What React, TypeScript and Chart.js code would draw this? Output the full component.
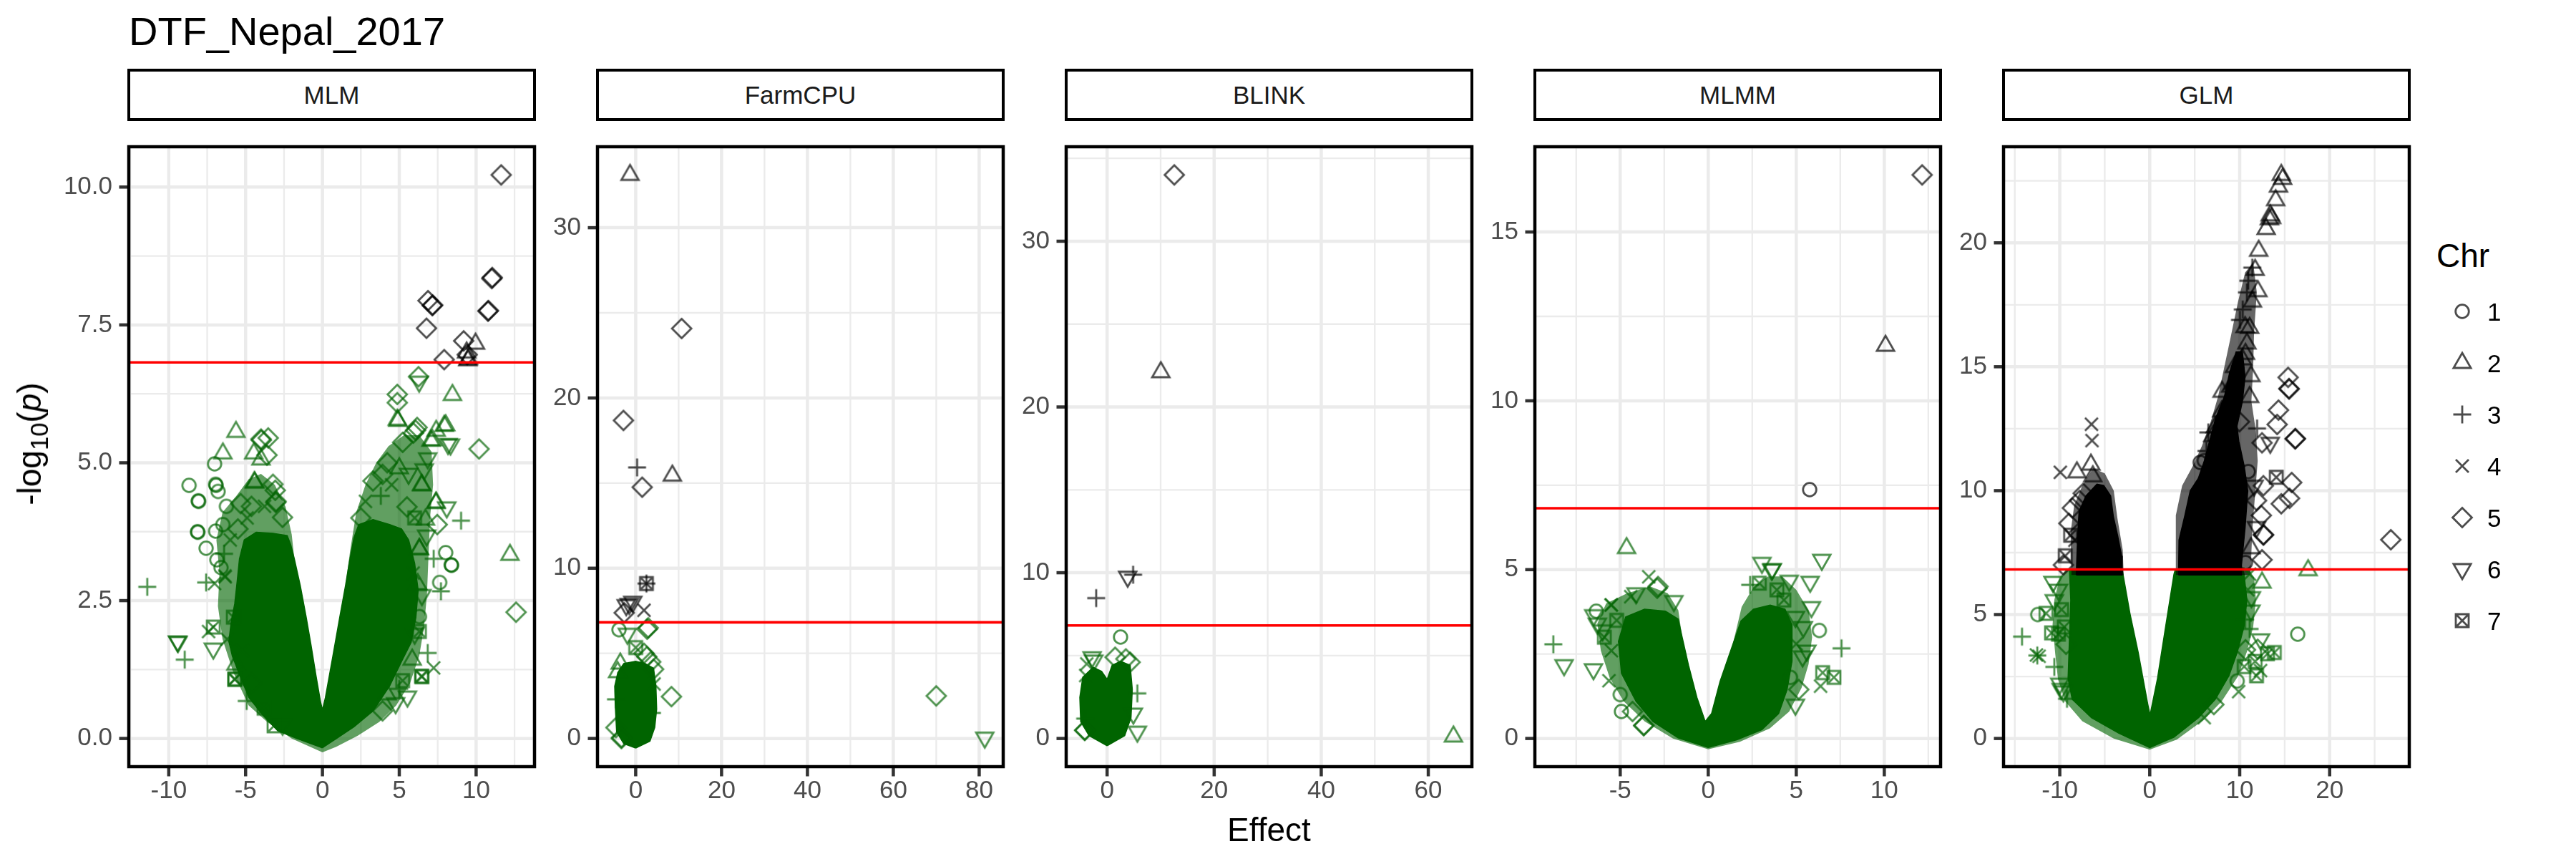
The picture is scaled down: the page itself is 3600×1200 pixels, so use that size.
import React, { useEffect, useRef } from "react";
import { Chart, registerables } from "chart.js";

Chart.register(...registerables);

const FONT = '"Liberation Sans", Arial, Helvetica, sans-serif';
Chart.defaults.font.family = FONT;

// ---------------- data ----------------
const PANEL_NAMES = ["MLM", "FarmCPU", "BLINK", "MLMM", "GLM"];
const CHR_LEVELS = [1, 2, 3, 4, 5, 6, 7];
const THRESHOLD = 6.82;

const mlmXTicks = [-10, -5, 0, 5, 10];
const mlmYTicks = [0, 2.5, 5, 7.5, 10];
const farmXTicks = [0, 20, 40, 60, 80];
const farmYTicks = [0, 10, 20, 30];
const blinkXTicks = [0, 20, 40, 60];
const blinkYTicks = [0, 10, 20, 30];
const mlmmXTicks = [-5, 0, 5, 10];
const mlmmYTicks = [0, 5, 10, 15];
const glmXTicks = [-10, 0, 10, 20];
const glmYTicks = [0, 5, 10, 15, 20];

// points: [effect, -log10(p), chr]
const mlmBlack = [
  [11.63, 10.22, 5], [11.02, 8.34, 5], [11.05, 8.36, 5], [6.87, 7.94, 5], [7.15, 7.85, 5], [7.17, 7.86, 5],
  [10.77, 7.75, 5], [10.8, 7.76, 5], [6.77, 7.44, 5], [9.19, 7.21, 5], [9.96, 7.16, 2], [9.42, 6.96, 5],
  [9.38, 7.0, 2], [9.46, 6.86, 2], [9.5, 6.88, 2], [7.92, 6.87, 5],
];
const mlmGreen = [
  [-5.63, 5.56, 2], [-6.48, 5.17, 2], [-4.0, 5.43, 5], [-3.98, 5.41, 5], [-3.53, 5.45, 5], [-4.47, 5.17, 2], [-4.0, 5.06, 2], [-3.61, 5.14, 5],
  [-7.02, 4.98, 1], [-8.68, 4.59, 1], [-6.95, 4.61, 1], [-6.92, 4.59, 1], [-6.79, 4.48, 1], [-4.43, 4.65, 2], [-4.41, 4.64, 2], [-3.22, 4.61, 5], [-3.07, 4.5, 5],
  [-8.06, 4.3, 1], [-8.08, 4.31, 1], [-3.02, 4.3, 5], [-3.04, 4.28, 5], [-6.25, 4.21, 1], [-5.32, 4.26, 5], [-4.62, 4.21, 5], [-3.77, 4.21, 4],
  [-8.11, 3.74, 1], [-8.13, 3.75, 1], [-6.95, 3.76, 1], [-6.48, 3.88, 1], [-7.57, 3.45, 1], [-6.87, 3.24, 1], [-6.4, 3.35, 3], [-2.6, 4.01, 5],
  [-11.4, 2.75, 3], [-7.57, 2.83, 3], [-6.33, 2.93, 4], [-6.35, 2.95, 4], [-7.02, 2.81, 4], [-9.43, 1.76, 6], [-9.4, 1.75, 6], [-8.96, 1.43, 3],
  [-7.1, 1.63, 6], [-7.41, 1.94, 4], [-7.1, 2.02, 7], [-5.63, 1.34, 2], [-5.71, 1.07, 7], [-5.7, 1.08, 7], [-4.93, 0.68, 3], [-3.15, 0.23, 7],
  [-6.6, 3.1, 1], [-6.0, 3.6, 4], [-5.8, 2.2, 7], [-6.2, 1.8, 4], [-5.5, 3.8, 5], [-4.9, 4.0, 4], [-5.2, 1.6, 4], [-4.6, 1.0, 5], [-3.8, 0.55, 7], [-2.6, 0.25, 6],
  [4.91, 5.76, 2], [6.16, 5.64, 5], [5.92, 5.54, 5], [6.06, 5.59, 5], [8.02, 5.68, 2], [7.16, 5.41, 2], [7.06, 5.4, 2], [8.33, 5.33, 6], [8.17, 5.34, 6], [7.4, 5.58, 2],
  [10.19, 5.25, 5], [5.22, 5.37, 5], [4.22, 5.0, 5], [3.91, 4.79, 5], [3.29, 4.67, 5], [6.85, 5.08, 6], [6.62, 4.88, 6], [6.47, 4.59, 2], [6.45, 4.6, 2],
  [7.4, 4.28, 2], [7.38, 4.27, 2], [8.09, 4.19, 6], [9.02, 3.95, 3], [6.7, 3.97, 2], [7.47, 3.88, 5], [6.78, 3.68, 6], [6.31, 3.43, 2], [6.3, 3.44, 2],
  [8.02, 3.37, 1], [8.4, 3.14, 1], [8.38, 3.15, 1], [7.24, 3.26, 3], [7.63, 2.83, 1], [7.71, 2.67, 3], [12.2, 3.33, 2], [12.6, 2.29, 5], [6.47, 2.6, 6],
  [6.31, 1.94, 7], [6.85, 1.55, 3], [7.24, 1.28, 4], [6.47, 1.12, 7], [6.45, 1.13, 7], [5.84, 1.43, 2], [5.22, 1.05, 7], [5.53, 0.76, 6], [4.76, 0.64, 6], [3.91, 0.5, 5], [6.31, 2.21, 1],
  [6.25, 6.56, 5], [6.29, 6.47, 6], [4.87, 6.24, 5], [4.87, 6.09, 5], [8.46, 6.23, 2], [4.87, 5.78, 2], [7.92, 5.67, 2],
  [4.5, 4.6, 4], [5.0, 4.9, 2], [5.6, 4.8, 6], [5.5, 4.2, 5], [6.0, 4.0, 7], [3.8, 4.4, 3], [2.8, 4.3, 4], [2.5, 4.0, 5], [5.9, 3.0, 4], [6.2, 2.8, 2], [6.0, 1.9, 6], [5.0, 0.9, 3], [4.2, 0.8, 2],
];
const farmBlack = [
  [-1.32, 33.1, 2], [10.7, 24.08, 5], [-2.85, 18.68, 5], [0.33, 15.92, 3], [8.54, 15.44, 2], [1.52, 14.76, 5],
  [2.5, 9.1, 7], [2.5, 9.1, 3], [-0.67, 8.03, 6], [-2.2, 7.83, 6], [-1.5, 7.9, 6], [-2.67, 7.38, 5], [1.94, 7.53, 4],
];
const farmGreen = [
  [-3.89, 6.39, 1], [-1.94, 6.15, 6], [2.67, 6.42, 5], [2.9, 6.5, 5], [0, 5.34, 7], [1.94, 5.0, 5], [2.6, 4.8, 5], [4.17, 4.07, 5],
  [3.5, 4.5, 5], [8.33, 2.46, 5], [-4.6, 0.64, 5], [-3.33, 0.0, 5], [-3.3, 0.05, 5], [-4.6, 2.3, 3], [-4.2, 3.9, 2], [-3.6, 4.4, 2],
  [3.8, 1.5, 3], [4.3, 3.2, 4], [70, 2.5, 5], [81.3, 0.05, 6],
];
const blinkBlack = [[12.55, 34.0, 5], [10.04, 22.1, 2], [-2.04, 8.47, 3], [3.84, 9.76, 6], [4.86, 9.88, 3]];
const blinkGreen = [
  [2.51, 6.12, 1], [-2.8, 4.9, 6], [-2.5, 4.7, 6], [5.65, 2.72, 3], [5.65, 0.41, 6], [-4.2, 0.49, 5], [-4.15, 0.5, 5],
  [64.7, 0.12, 2], [1.5, 4.9, 5], [3.5, 4.8, 5], [4.3, 4.6, 5], [-4.0, 3.8, 4], [-3.8, 4.5, 4], [4.9, 1.5, 6], [-4.1, 1.2, 3],
];
const mlmmBlack = [[12.15, 16.69, 5], [10.07, 11.63, 2], [5.76, 7.37, 1]];
const mlmmGreen = [
  [-4.64, 5.64, 2], [-8.8, 2.79, 3], [-8.19, 2.17, 6], [-6.52, 2.05, 6], [-5.64, 1.71, 4], [-6.36, 3.77, 1], [-6.5, 3.65, 6], [-6.3, 3.4, 6],
  [-5.52, 3.95, 4], [-5.5, 3.96, 4], [-3.38, 4.79, 4], [-2.9, 4.45, 5], [-2.85, 4.5, 5], [-1.95, 4.07, 6], [-4.93, 0.8, 1], [-3.67, 0.38, 5], [-3.65, 0.39, 5],
  [3.05, 5.2, 6], [3.64, 5.02, 6], [3.6, 5.0, 6], [6.45, 5.29, 6], [4.6, 4.67, 6], [5.79, 4.64, 6], [2.38, 4.55, 3], [5.86, 3.89, 6], [6.31, 3.2, 1],
  [7.57, 2.67, 3], [6.5, 1.95, 7], [7.14, 1.81, 7], [6.38, 1.55, 4], [5.36, 2.43, 6], [4.95, 1.0, 6], [5.14, 1.45, 5], [4.67, 1.81, 1], [4.95, 3.6, 6], [5.4, 3.3, 6],
  [-5.9, 3.0, 7], [-5.5, 2.6, 4], [-5.2, 3.5, 7], [-4.4, 4.2, 4], [-4.1, 4.3, 6], [3.9, 4.4, 7], [4.3, 4.1, 7], [2.9, 4.6, 7], [5.0, 2.8, 4], [5.6, 2.6, 6],
  [-5.0, 1.3, 1], [-4.3, 0.8, 5], [-6.0, 3.2, 6],
];
const glmBlack = [
  [14.62, 22.74, 2], [14.77, 22.58, 2], [14.31, 22.27, 2], [14.0, 21.72, 2], [13.39, 21.11, 2], [13.55, 21.0, 2], [13.3, 20.95, 2], [12.94, 20.56, 2],
  [12.11, 19.68, 2], [11.71, 18.91, 2], [11.4, 19.0, 3], [10.95, 18.47, 3], [12.02, 18.05, 2], [10.8, 18.0, 3], [11.41, 17.63, 2], [10.34, 17.31, 3],
  [10.03, 16.89, 3], [11.1, 16.57, 2], [10.6, 16.6, 2], [10.8, 15.94, 2], [10.64, 15.52, 2], [10.3, 15.3, 2], [9.42, 14.99, 2], [11.25, 14.62, 2],
  [9.27, 14.3, 2], [8.04, 13.99, 2], [11.1, 13.78, 2], [8.81, 13.41, 2], [8.3, 12.9, 2], [9.97, 12.78, 5], [7.28, 12.56, 2], [6.51, 12.35, 3],
  [11.93, 12.51, 3], [13.39, 11.93, 6], [12.48, 11.93, 5], [7.58, 11.66, 2], [5.6, 11.14, 1], [10.95, 10.77, 1],
  [15.38, 14.57, 5], [15.47, 14.12, 5], [15.5, 14.1, 5], [14.31, 13.25, 5], [14.16, 12.67, 5], [16.15, 12.09, 5], [16.2, 12.1, 5],
  [14.07, 10.54, 7], [15.78, 10.33, 5], [15.54, 9.69, 5], [14.62, 9.47, 5], [11.87, 9.6, 5], [12.63, 10.2, 5], [12.63, 8.21, 5], [12.65, 8.22, 5],
  [12.48, 7.21, 5], [11.87, 8.53, 6], [11.25, 7.68, 2], [10.64, 7.1, 1], [12.4, 9.0, 5], [11.6, 10.2, 6],
  [26.8, 8.02, 5],
  [-6.48, 12.68, 4], [-6.42, 12.02, 4], [-6.54, 11.05, 2], [-6.33, 10.58, 2], [-8.1, 10.74, 2], [-9.94, 10.74, 4], [-7.4, 9.89, 5],
  [-8.99, 8.68, 5], [-8.32, 8.0, 4], [-9.39, 7.37, 7], [-9.6, 7.0, 5], [-8.6, 9.3, 5], [-7.8, 9.6, 5], [-8.8, 8.2, 7],
  [6.06, 11.21, 1], [6.3, 11.6, 3], [7.0, 12.2, 2], [8.0, 13.2, 2], [9.0, 14.2, 2],
];
const glmGreen = [
  [-14.2, 4.11, 3], [-12.45, 5.0, 1], [-11.53, 5.05, 7], [-10.92, 4.26, 7], [-10.15, 4.21, 7], [-12.6, 3.37, 4], [-12.3, 3.32, 4], [-12.5, 3.35, 3],
  [-10.61, 2.89, 3], [-10.0, 2.21, 6], [-9.85, 2.0, 6], [-10.76, 6.32, 6], [-10.15, 6.0, 6], [-10.61, 5.58, 6], [-9.8, 5.2, 7], [-9.5, 4.5, 7],
  [-9.3, 3.8, 5], [-9.6, 1.9, 6], [-9.2, 1.6, 3],
  [17.6, 6.79, 2], [12.48, 6.29, 2], [16.45, 4.21, 1], [11.25, 5.16, 6], [12.32, 4.0, 6], [13.85, 3.47, 7], [13.09, 3.42, 7], [10.64, 3.58, 5],
  [11.71, 3.11, 7], [11.87, 2.53, 7], [12.32, 2.74, 4], [9.72, 2.32, 1], [9.88, 1.89, 4], [7.13, 1.37, 5], [6.06, 0.84, 4], [11.1, 4.42, 3],
  [11.1, 6.63, 4], [10.9, 6.0, 4], [11.3, 5.7, 6], [10.6, 4.8, 3], [12.0, 3.6, 5], [10.5, 2.9, 7],
];

// outlines of the over-plotted (solid) point masses: [effect, -log10(p)]
const mlmSolid = [
  [0, -0.17], [-1.67, 0], [-2.91, 0.14], [-3.84, 0.41], [-4.78, 0.74], [-5.4, 1.16], [-5.86, 1.49], [-6.09, 1.76], [-5.94, 2.11], [-5.71, 2.44],
  [-5.55, 2.85], [-5.4, 3.26], [-5.09, 3.6], [-4.31, 3.74], [-3.22, 3.72], [-2.29, 3.68], [-2.06, 3.51], [-1.83, 3.26], [-1.44, 2.77], [-1.05, 2.19],
  [-0.74, 1.69], [-0.43, 1.16], [-0.12, 0.66], [0, 0.52], [0.19, 0.74], [0.65, 1.45], [1.12, 2.19], [1.5, 2.77], [1.74, 3.18], [2.05, 3.64],
  [2.36, 3.88], [3.29, 3.97], [4.37, 3.88], [5.15, 3.8], [5.61, 3.6], [6.0, 3.18], [6.23, 2.69], [6.08, 2.19], [5.77, 1.74], [5.15, 1.4],
  [4.37, 0.95], [3.29, 0.5], [2.05, 0.21], [0.81, -0.02], [0, -0.17],
];
const mlmHalo = [
  [0, -0.25], [-2.0, 0.0], [-3.6, 0.3], [-4.8, 0.6], [-5.8, 1.2], [-6.5, 1.8], [-6.8, 2.4], [-6.7, 3.0], [-6.9, 3.6], [-6.5, 4.1], [-5.6, 4.4],
  [-4.8, 4.7], [-4.0, 4.8], [-3.1, 4.6], [-2.4, 4.2], [-2.0, 3.7], [-1.83, 3.26], [-1.44, 2.77], [-1.05, 2.19], [-0.74, 1.69], [-0.43, 1.16],
  [-0.12, 0.66], [0, 0.52], [0.19, 0.74], [0.65, 1.45], [1.12, 2.19], [1.5, 2.77], [1.8, 3.4], [2.2, 4.1], [2.8, 4.6], [3.5, 5.0], [4.3, 5.3],
  [5.3, 5.5], [6.3, 5.5], [7.1, 5.2], [7.2, 4.6], [7.0, 4.0], [6.9, 3.3], [6.8, 2.6], [6.6, 2.0], [6.3, 1.5], [5.7, 1.0], [4.8, 0.6], [3.7, 0.3],
  [2.3, 0.05], [0.9, -0.15], [0, -0.25],
];
const farmSolid = [
  [0, -0.56], [-2.78, -0.3], [-4.44, 0.38], [-4.72, 1.72], [-4.89, 3.06], [-4.17, 3.87], [-2.78, 4.4], [0, 4.54], [2.22, 4.4], [4.17, 4.13],
  [4.72, 3.06], [4.89, 1.72], [4.44, 0.64], [3.33, -0.16], [0, -0.56],
];
const blinkSolid = [
  [0, -0.44], [-3.37, 0.17], [-4.94, 1.02], [-5.1, 2.48], [-4.55, 3.69], [-2.59, 4.3], [-1.02, 4.05], [0, 3.57], [0.94, 4.42], [2.51, 4.66],
  [4.31, 4.42], [4.71, 2.96], [4.47, 1.26], [3.29, 0.17], [0, -0.44],
];
const mlmmSolid = [
  [0, -0.27], [-1.71, 0.02], [-3.14, 0.5], [-4.1, 1.1], [-4.93, 1.93], [-5.1, 2.88], [-4.69, 3.6], [-3.62, 3.83], [-2.43, 3.77], [-1.71, 3.54],
  [-1.48, 3.0], [-1.12, 2.17], [-0.64, 1.21], [-0.17, 0.5], [0, 0.62], [0.19, 0.74], [0.67, 1.69], [1.38, 2.76], [1.86, 3.48], [2.57, 3.83],
  [3.52, 3.95], [4.36, 3.83], [4.76, 3.36], [4.76, 2.29], [4.48, 1.45], [4.0, 0.74], [3.05, 0.26], [1.62, -0.04], [0, -0.27],
];
const mlmmHalo = [
  [0, -0.32], [-2.0, 0.0], [-3.6, 0.5], [-4.8, 1.1], [-5.6, 1.8], [-6.1, 2.6], [-6.3, 3.4], [-5.8, 4.0], [-4.6, 4.3], [-3.3, 4.5], [-2.3, 4.3],
  [-1.7, 3.8], [-1.48, 3.0], [-1.12, 2.17], [-0.64, 1.21], [-0.17, 0.5], [0, 0.62], [0.19, 0.74], [0.67, 1.69], [1.38, 2.76], [1.9, 3.9],
  [2.6, 4.5], [3.4, 4.8], [4.2, 4.8], [5.0, 4.4], [5.7, 3.8], [5.9, 3.0], [5.7, 2.2], [5.3, 1.5], [4.6, 0.8], [3.5, 0.3], [1.8, -0.1], [0, -0.32],
];
const glmSolid = [
  [-8.93, 6.82], [-8.78, 5.58], [-8.93, 4.0], [-9.08, 2.42], [-8.62, 1.58], [-6.48, 0.84], [-3.43, 0.21], [0, -0.37], [2.69, 0.05], [5.44, 0.84],
  [7.28, 1.58], [8.81, 2.53], [9.72, 3.47], [10.49, 4.53], [10.8, 5.58], [10.49, 6.63], [10.34, 6.82], [2.84, 6.82], [2.69, 6.63], [1.77, 4.53],
  [0.86, 2.42], [0.09, 1.05], [0, 1.0], [-0.21, 1.37], [-1.28, 3.47], [-2.2, 5.05], [-2.97, 6.63], [-3.06, 6.82], [-8.93, 6.82],
];
const glmHalo = [
  [-9.3, 6.82], [-10.0, 6.5], [-10.6, 5.6], [-10.8, 4.6], [-10.5, 3.4], [-10.2, 2.4], [-9.4, 1.5], [-7.5, 0.7], [-4.0, 0.0], [0, -0.45],
  [3.0, -0.05], [6.0, 0.75], [8.0, 1.5], [9.8, 2.5], [10.8, 3.5], [11.5, 4.5], [11.8, 5.6], [11.6, 6.5], [11.0, 6.82], [2.84, 6.82],
  [2.69, 6.63], [1.77, 4.53], [0.86, 2.42], [0.09, 1.05], [0, 1.0], [-0.21, 1.37], [-1.28, 3.47], [-2.2, 5.05], [-2.97, 6.63], [-3.06, 6.82], [-9.3, 6.82],
];
const glmBlackSolidL = [
  [-8.17, 6.6], [-8.01, 8.21], [-7.86, 9.16], [-7.09, 9.79], [-5.87, 10.26], [-5.11, 10.21], [-4.34, 9.79], [-4.04, 8.95], [-3.58, 8.21],
  [-3.12, 7.37], [-3.06, 6.6], [-8.17, 6.6],
];
const glmBlackSolidR = [
  [3.2, 6.6], [3.25, 8.0], [3.9, 9.0], [4.5, 10.0], [5.4, 10.5], [6.06, 11.2], [7.3, 12.9], [8.3, 13.8], [8.9, 14.8], [9.6, 15.6], [10.3, 15.6],
  [10.6, 14.6], [10.3, 13.6], [9.7, 12.6], [9.9, 12.0], [10.5, 11.0], [10.9, 10.0], [10.6, 8.5], [10.2, 7.0], [10.2, 6.6], [3.2, 6.6],
];
const glmBlackHaloL = [
  [-8.7, 6.6], [-8.8, 8.3], [-8.4, 9.4], [-7.5, 10.2], [-6.3, 10.9], [-5.0, 10.7], [-4.0, 10.0], [-3.6, 8.9], [-3.0, 7.6], [-2.9, 6.6], [-8.7, 6.6],
];
const glmBlackHaloR = [
  [2.9, 6.6], [2.9, 9.0], [3.6, 10.2], [4.8, 11.0], [5.8, 11.8], [6.8, 12.8], [7.6, 13.8], [8.3, 15.0], [9.0, 16.2], [9.8, 17.6], [10.6, 18.8],
  [11.5, 19.2], [11.9, 18.0], [11.6, 16.4], [11.5, 15.0], [11.3, 13.6], [11.8, 12.4], [12.0, 11.2], [11.7, 9.8], [11.4, 8.4], [11.2, 6.6], [2.9, 6.6],
];

// ---------------- layout / style ----------------
const PANEL_LEFT = [180, 835, 1490, 2145, 2800];
const PANEL_W = 567;
const PANEL_TOP = 169;
const PANEL_H = 902;
const AX_W = 140;
const AX_H = 95;
const PAD_T = 8;
const PAD_R = 12;
const LEGEND_ROWS = [435, 507, 579, 651, 723, 795, 867];
const LEGEND_LEFT = 3405;
const LEGEND_KEY_X = 3441;
const LEGEND_LABEL_X = 3476;

const GREEN = "rgba(0,100,0,0.7)";
const BLACK = "rgba(0,0,0,0.7)";
const GREEN_HALO = "rgba(0,100,0,0.62)";
const BLACK_HALO = "rgba(0,0,0,0.6)";

const PANELS: any[] = [
  { green: mlmGreen, black: mlmBlack, gSolid: [mlmSolid], gHalo: [mlmHalo], bSolid: [], bHalo: [], xt: mlmXTicks, yt: mlmYTicks, yDec: 1 },
  { green: farmGreen, black: farmBlack, gSolid: [farmSolid], gHalo: [], bSolid: [], bHalo: [], xt: farmXTicks, yt: farmYTicks, yDec: 0 },
  { green: blinkGreen, black: blinkBlack, gSolid: [blinkSolid], gHalo: [], bSolid: [], bHalo: [], xt: blinkXTicks, yt: blinkYTicks, yDec: 0 },
  { green: mlmmGreen, black: mlmmBlack, gSolid: [mlmmSolid], gHalo: [mlmmHalo], bSolid: [], bHalo: [], xt: mlmmXTicks, yt: mlmmYTicks, yDec: 0 },
  { green: glmGreen, black: glmBlack, gSolid: [glmSolid], gHalo: [glmHalo], bSolid: [glmBlackSolidL, glmBlackSolidR], bHalo: [glmBlackHaloL, glmBlackHaloR], xt: glmXTicks, yt: glmYTicks, yDec: 0 },
];

function drawShape(ctx: CanvasRenderingContext2D, chr: number, cx: number, cy: number, color: string, lw: number) {
  ctx.save();
  ctx.strokeStyle = color;
  ctx.lineWidth = lw;
  ctx.beginPath();
  if (chr === 1) {
    ctx.arc(cx, cy, 9.3, 0, Math.PI * 2);
  } else if (chr === 2 || chr === 6) {
    const r = 14;
    const s = chr === 2 ? 1 : -1;
    ctx.moveTo(cx, cy - s * r);
    ctx.lineTo(cx + r * 0.866, cy + s * r * 0.5);
    ctx.lineTo(cx - r * 0.866, cy + s * r * 0.5);
    ctx.closePath();
  } else if (chr === 3) {
    ctx.moveTo(cx - 12.5, cy); ctx.lineTo(cx + 12.5, cy);
    ctx.moveTo(cx, cy - 12.5); ctx.lineTo(cx, cy + 12.5);
  } else if (chr === 4) {
    const a = 9;
    ctx.moveTo(cx - a, cy - a); ctx.lineTo(cx + a, cy + a);
    ctx.moveTo(cx - a, cy + a); ctx.lineTo(cx + a, cy - a);
  } else if (chr === 5) {
    const d = 13.5;
    ctx.moveTo(cx, cy - d); ctx.lineTo(cx + d, cy); ctx.lineTo(cx, cy + d); ctx.lineTo(cx - d, cy);
    ctx.closePath();
  } else if (chr === 7) {
    const a = 9;
    ctx.rect(cx - a, cy - a, 2 * a, 2 * a);
    ctx.moveTo(cx - a, cy - a); ctx.lineTo(cx + a, cy + a);
    ctx.moveTo(cx - a, cy + a); ctx.lineTo(cx + a, cy - a);
  }
  ctx.stroke();
  ctx.restore();
}

function makeImages(color: string) {
  const imgs: HTMLCanvasElement[] = [];
  CHR_LEVELS.forEach((c) => {
    const cv = document.createElement("canvas");
    cv.width = 40;
    cv.height = 40;
    drawShape(cv.getContext("2d") as CanvasRenderingContext2D, c, 20, 20, color, 2.8);
    imgs[c] = cv;
  });
  return imgs;
}

function minorsOf(major: number[], lo: number, hi: number) {
  const step = major[1] - major[0];
  const out: number[] = [];
  const all = [major[0] - step, ...major, major[major.length - 1] + step];
  for (let i = 0; i < all.length - 1; i++) {
    const m = (all[i] + all[i + 1]) / 2;
    if (m >= lo && m <= hi) out.push(m);
  }
  return out;
}

const decorPlugin = {
  id: "decor",
  beforeDatasetsDraw(chart: any, _a: any, o: any) {
    const { ctx, chartArea: a, scales } = chart;
    const x = scales.x, y = scales.y;
    ctx.save();
    ctx.beginPath();
    ctx.rect(a.left, a.top, a.right - a.left, a.bottom - a.top);
    ctx.clip();
    ctx.strokeStyle = "#EBEBEB";
    const v = (val: number, w: number) => {
      const p = x.getPixelForValue(val);
      ctx.lineWidth = w; ctx.beginPath(); ctx.moveTo(p, a.top); ctx.lineTo(p, a.bottom); ctx.stroke();
    };
    const h = (val: number, w: number) => {
      const p = y.getPixelForValue(val);
      ctx.lineWidth = w; ctx.beginPath(); ctx.moveTo(a.left, p); ctx.lineTo(a.right, p); ctx.stroke();
    };
    o.xMinor.forEach((t: number) => v(t, 2.3));
    o.yMinor.forEach((t: number) => h(t, 2.3));
    o.xMajor.forEach((t: number) => v(t, 4.5));
    o.yMajor.forEach((t: number) => h(t, 4.5));
    ctx.restore();
  },
  afterDatasetsDraw(chart: any, _a: any, o: any) {
    const { ctx, chartArea: a, scales } = chart;
    const x = scales.x, y = scales.y;
    ctx.save();
    ctx.beginPath();
    ctx.rect(a.left, a.top, a.right - a.left, a.bottom - a.top);
    ctx.clip();
    const py = y.getPixelForValue(o.threshold);
    ctx.strokeStyle = "#FF0000";
    ctx.lineWidth = 3.6;
    ctx.beginPath(); ctx.moveTo(a.left, py); ctx.lineTo(a.right, py); ctx.stroke();
    ctx.restore();
    ctx.save();
    ctx.strokeStyle = "#333333";
    ctx.lineWidth = 4.5;
    o.xMajor.forEach((t: number) => {
      const p = x.getPixelForValue(t);
      ctx.beginPath(); ctx.moveTo(p, a.bottom); ctx.lineTo(p, a.bottom + 13.5); ctx.stroke();
    });
    o.yMajor.forEach((t: number) => {
      const p = y.getPixelForValue(t);
      ctx.beginPath(); ctx.moveTo(a.left, p); ctx.lineTo(a.left - 13.5, p); ctx.stroke();
    });
    ctx.strokeStyle = "#000000";
    ctx.lineWidth = 4.5;
    ctx.strokeRect(a.left, a.top, a.right - a.left, a.bottom - a.top);
    ctx.restore();
  },
};

function PanelChart({ idx }: { idx: number }) {
  const ref = useRef<HTMLCanvasElement>(null);
  useEffect(() => {
    const p = PANELS[idx];
    const pts = [...p.green, ...p.black];
    const xs = pts.map((d: number[]) => d[0]);
    const ys = pts.map((d: number[]) => d[1]);
    const xmin = Math.min(...xs), xmax = Math.max(...xs);
    const ymin = 0, ymax = Math.max(...ys);
    const ex = (xmax - xmin) * 0.05, ey = (ymax - ymin) * 0.05;
    const lo = { x: xmin - ex, y: ymin - ey }, hi = { x: xmax + ex, y: ymax + ey };
    const gImg = makeImages(GREEN);
    const bImg = makeImages(BLACK);
    const poly = (arr: number[][], fillColor: string, line: string) => ({
      type: "line",
      data: arr.map(([x, y]) => ({ x, y })),
      borderColor: line,
      backgroundColor: fillColor,
      borderWidth: 1.5,
      pointRadius: 0,
      fill: "shape",
      tension: 0,
      clip: 0,
    });
    const scatter = (arr: number[][], imgs: HTMLCanvasElement[]) => ({
      type: "scatter",
      data: arr.map(([x, y, c]) => ({ x, y, c })),
      pointStyle: (ctx: any) => imgs[(ctx.raw && ctx.raw.c) || 1],
      pointRadius: 3,
      clip: 0,
    });
    const datasets: any[] = [
      scatter(p.black, bImg),
      scatter(p.green, gImg),
      ...p.bSolid.map((a: number[][]) => poly(a, "#000000", "#000000")),
      ...p.bHalo.map((a: number[][]) => poly(a, BLACK_HALO, "rgba(0,0,0,0)")),
      ...p.gSolid.map((a: number[][]) => poly(a, "#006400", "#006400")),
      ...p.gHalo.map((a: number[][]) => poly(a, GREEN_HALO, "rgba(0,100,0,0)")),
    ];
    const tickFont = { family: FONT, size: 35 };
    const chart = new Chart(ref.current as HTMLCanvasElement, {
      type: "scatter",
      data: { datasets },
      plugins: [decorPlugin as any],
      options: {
        animation: false,
        responsive: false,
        devicePixelRatio: 1,
        events: [],
        layout: { padding: { top: PAD_T, right: PAD_R, left: 0, bottom: 0 } },
        plugins: {
          legend: { display: false },
          tooltip: { enabled: false },
          decor: {
            xMajor: p.xt,
            yMajor: p.yt,
            xMinor: minorsOf(p.xt, lo.x, hi.x),
            yMinor: minorsOf(p.yt, lo.y, hi.y),
            threshold: THRESHOLD,
          },
        } as any,
        scales: {
          x: {
            type: "linear",
            min: lo.x,
            max: hi.x,
            bounds: "data",
            grid: { display: false, drawTicks: false },
            border: { display: false },
            afterBuildTicks: (s: any) => { s.ticks = p.xt.map((t: number) => ({ value: t })); },
            afterFit: (s: any) => { s.height = AX_H; },
            ticks: { font: tickFont, color: "#4D4D4D", padding: 13, maxRotation: 0, autoSkip: false, callback: (val: any) => String(val) },
          },
          y: {
            type: "linear",
            min: lo.y,
            max: hi.y,
            bounds: "data",
            grid: { display: false, drawTicks: false },
            border: { display: false },
            afterBuildTicks: (s: any) => { s.ticks = p.yt.map((t: number) => ({ value: t })); },
            afterFit: (s: any) => { s.width = AX_W; },
            ticks: { font: tickFont, color: "#4D4D4D", padding: 23, autoSkip: false, callback: (val: any) => Number(val).toFixed(p.yDec) },
          },
        } as any,
      } as any,
    } as any);
    return () => chart.destroy();
  }, [idx]);
  return (
    <canvas
      ref={ref}
      width={AX_W + PANEL_W + PAD_R}
      height={PAD_T + PANEL_H + AX_H}
      style={{ position: "absolute", left: PANEL_LEFT[idx] - AX_W, top: PANEL_TOP - PAD_T, width: AX_W + PANEL_W + PAD_R, height: PAD_T + PANEL_H + AX_H }}
    />
  );
}

function LegendKeys() {
  const ref = useRef<HTMLCanvasElement>(null);
  useEffect(() => {
    const ctx = (ref.current as HTMLCanvasElement).getContext("2d") as CanvasRenderingContext2D;
    ctx.clearRect(0, 0, 90, 520);
    CHR_LEVELS.forEach((c, i) => drawShape(ctx, c, LEGEND_KEY_X - (LEGEND_LEFT - 5), LEGEND_ROWS[i] - 400, BLACK, 2.8));
  }, []);
  return <canvas ref={ref} width={90} height={520} style={{ position: "absolute", left: LEGEND_LEFT - 5, top: 400 }} />;
}

export default function App() {
  return (
    <div style={{ position: "fixed", left: 0, top: 0, width: 3600, height: 1200, background: "#ffffff", overflow: "hidden", fontFamily: FONT }}>
      <div style={{ position: "absolute", left: 180, top: 16, fontSize: 56, lineHeight: "56px", color: "#000", whiteSpace: "nowrap" }}>DTF_Nepal_2017</div>
      {PANEL_NAMES.map((n, i) => (
        <div
          key={"s" + n}
          style={{
            position: "absolute", left: PANEL_LEFT[i] - 2.25, top: 96, width: PANEL_W + 4.5, height: 73,
            border: "4.5px solid #000", boxSizing: "border-box", display: "flex", alignItems: "center",
            justifyContent: "center", fontSize: 35, color: "#1A1A1A", background: "#fff",
          }}
        >
          {n}
        </div>
      ))}
      {PANEL_NAMES.map((n, i) => (
        <PanelChart key={"c" + n} idx={i} />
      ))}
      <div
        style={{
          position: "absolute", left: 41, top: 620, transform: "translate(-50%,-50%) rotate(-90deg)",
          fontSize: 46, lineHeight: "46px", whiteSpace: "nowrap", color: "#000",
        }}
      >
        -log<sub style={{ fontSize: "0.75em", lineHeight: 0, verticalAlign: "-0.28em" }}>10</sub>(<i>p</i>)
      </div>
      <div style={{ position: "absolute", left: 1773.5, top: 1136, transform: "translateX(-50%)", fontSize: 46, lineHeight: "46px", color: "#000", whiteSpace: "nowrap" }}>Effect</div>
      <div style={{ position: "absolute", left: LEGEND_LEFT, top: 334, fontSize: 46, lineHeight: "46px", color: "#000" }}>Chr</div>
      <LegendKeys />
      {CHR_LEVELS.map((c, i) => (
        <div key={"l" + c} style={{ position: "absolute", left: LEGEND_LABEL_X, top: LEGEND_ROWS[i] - 17, fontSize: 35, lineHeight: "35px", color: "#000" }}>{c}</div>
      ))}
    </div>
  );
}
